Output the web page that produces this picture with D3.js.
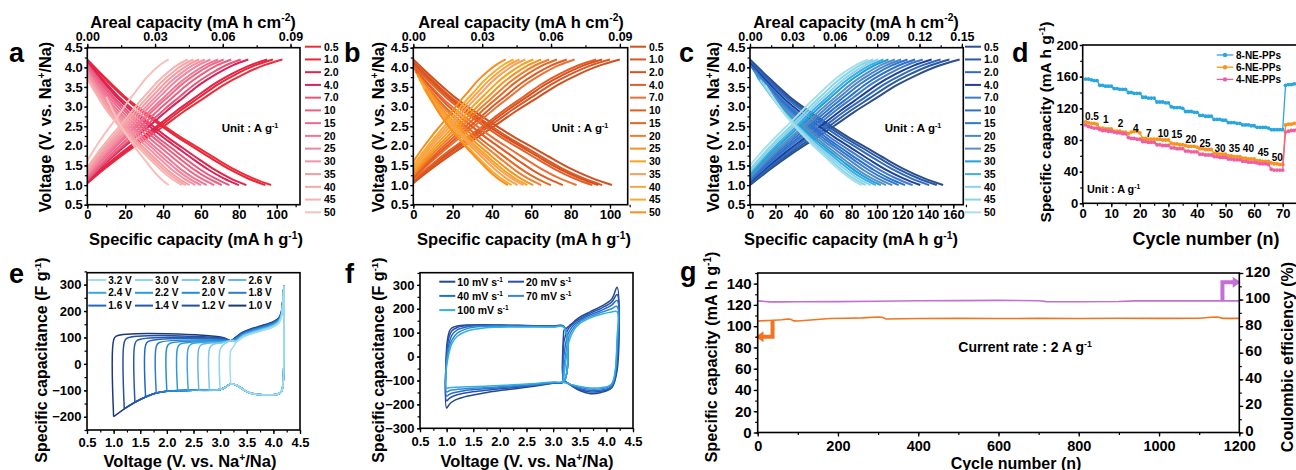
<!DOCTYPE html>
<html>
<head>
<meta charset="utf-8">
<script src="https://cdn.jsdelivr.net/npm/d3@7"></script>
<style>
  body { margin: 0; background: #fff; }
</style>
</head>
<body>
<script>
// ---------- data ----------
const rates = ["0.5", "1.0", "2.0", "4.0", "7.0", "10", "15", "20", "25", "30", "35", "40", "45", "50"];

// normalised profile of one GCD curve: [fraction of capacity, fraction of voltage window]
const chargeShape = [[0, 0], [0.1, 0.13], [0.2, 0.25], [0.3, 0.36], [0.4, 0.47], [0.5, 0.585], [0.6, 0.69], [0.7, 0.795], [0.8, 0.88], [0.9, 0.95], [1, 1]];
const dischargeShape = [[0, 0], [0.1, 0.15], [0.2, 0.29], [0.3, 0.405], [0.4, 0.51], [0.5, 0.61], [0.6, 0.70], [0.7, 0.79], [0.8, 0.875], [0.9, 0.945], [1, 1]];

// panel a (4-NE-PPs)
const aColors = ["#ee2d3a", "#ea2638", "#e4234a", "#d9235a", "#e8567a", "#eb5f80", "#ef6b8c", "#f07792", "#f2849e", "#f490a8", "#f59c9e", "#f6a8a8", "#f5b3b3", "#f7c0bc"];
const aChargeCap = [103, 98, 95, 85, 81, 76, 72, 69, 65, 62, 59, 56, 53, 43];
const aDischargeCap = [97, 94, 84, 80, 75, 71, 67, 63, 60, 57, 54, 52, 50, 43];
const aChargeStartV = [1.05, 1.05, 1.08, 1.1, 1.12, 1.15, 1.2, 1.22, 1.25, 1.3, 1.35, 1.4, 1.45, 1.62];
const aDischargeStartV = [4.2, 4.18, 4.15, 4.12, 4.08, 4.05, 4.0, 3.95, 3.9, 3.85, 3.8, 3.75, 3.7, 3.25];
const aDischargeStartQ = [0, 0, 0, 0, 0, 0, 0, 0, 0, 0, 0, 0, 0, 10];

// panel b (6-NE-PPs)
const bColors = ["#d24f1e", "#db5826", "#d9501c", "#e06028", "#ec7036", "#e35a1e", "#e8661e", "#f07e30", "#f5931e", "#f9a21a", "#f7a060", "#f8a440", "#f9ab30", "#fb8c1e"];
const bChargeCap = [105, 100, 96, 93, 82, 78, 73, 69, 65, 61, 57, 54, 51, 47];
const bDischargeCap = [101, 96, 94, 91, 83, 76, 70, 65, 61, 58, 56, 53, 50, 48];
const bChargeStartV = [1.05, 1.08, 1.1, 1.12, 1.15, 1.18, 1.2, 1.25, 1.3, 1.35, 1.4, 1.45, 1.5, 1.6];
const bDischargeStartV = [4.2, 4.15, 4.1, 4.05, 4.0, 3.95, 3.9, 3.85, 3.8, 3.7, 3.6, 3.55, 3.5, 3.45];
const bDischargeStartQ = [0, 0, 0, 0, 0, 1, 1, 2, 2, 3, 4, 5, 5, 6];

// panel c (8-NE-PPs)
const cColors = ["#2b4f8f", "#2c5aa0", "#2e6bc0", "#1f3f99", "#3b7bd0", "#2f6fca", "#2d78d0", "#4a86c8", "#5b8fbf", "#1ea0dc", "#3cb0e0", "#8fd0ef", "#86d6e8", "#a8e0e8"];
const cChargeCap = [165, 157, 150, 143, 136, 130, 124, 119, 114, 109, 105, 101, 97, 93];
const cDischargeCap = [152, 147, 141, 134, 128, 122, 117, 112, 107, 103, 99, 95, 91, 88];
const cChargeStartV = [1.0, 1.02, 1.05, 1.07, 1.1, 1.12, 1.15, 1.18, 1.2, 1.25, 1.3, 1.35, 1.4, 1.5];
const cDischargeStartV = [4.2, 4.17, 4.14, 4.1, 4.06, 4.02, 3.97, 3.92, 3.86, 3.8, 3.74, 3.68, 3.62, 3.55];
const cDischargeStartQ = [0, 0, 0, 0, 0, 1, 2, 3, 4, 5, 6, 8, 10, 12];

// panel d: rate capability
const dSeries = ["8-NE-PPs", "6-NE-PPs", "4-NE-PPs"];
const dColors = ["#29a6de", "#f7941d", "#ef5fa0"];
const d8NE = [157, 157, 156, 155, 155, 149, 149, 148, 148, 148, 145, 145, 144, 144, 144,
  140, 140, 139, 139, 139, 134, 134, 133, 133, 133, 128, 128, 128, 127, 127,
  122, 121, 121, 121, 120, 116, 116, 116, 115, 115, 111, 111, 110, 110, 110,
  106, 106, 106, 105, 105, 102, 102, 102, 101, 101, 99, 99, 99, 98, 98,
  96, 96, 96, 96, 95, 93, 93, 93, 93, 93, 149, 150, 150, 151, 151];
const d6NE = [103, 102, 101, 101, 100, 95, 95, 94, 94, 94, 91, 91, 91, 90, 90,
  88, 90, 91, 91, 89, 82, 82, 81, 81, 81, 81, 81, 80, 80, 80,
  76, 75, 75, 74, 74, 73, 72, 72, 72, 71, 69, 69, 68, 68, 68,
  63, 63, 62, 62, 62, 60, 60, 59, 59, 59, 57, 57, 56, 56, 56,
  54, 54, 53, 53, 53, 51, 50, 50, 49, 49, 99, 100, 100, 101, 101];
const d4NE = [99, 97, 96, 95, 95, 93, 92, 92, 91, 91, 90, 89, 89, 88, 88,
  83, 82, 82, 81, 81, 78, 78, 77, 77, 77, 74, 74, 73, 73, 73,
  70, 70, 69, 69, 69, 66, 66, 65, 65, 65, 62, 62, 61, 61, 61,
  59, 59, 58, 58, 58, 56, 56, 55, 55, 55, 53, 53, 52, 52, 52,
  51, 50, 50, 50, 49, 43, 42, 42, 42, 42, 90, 91, 92, 92, 93];
const dRateLabels = ["0.5", "1", "2", "4", "7", "10", "15", "20", "25", "30", "35", "40", "45", "50"];
const dLabelCycle = [3.2, 8.1, 13.2, 18.6, 23.1, 28.2, 32.9, 37.9, 42.8, 48.1, 53.1, 58, 63.2, 68.1];
const dLabelValue = [105, 101.5, 96.5, 90.5, 84, 84, 82.5, 76.2, 71.1, 64.8, 64.8, 64.8, 59.8, 53.4];

// panel e: CV with different lower cut-off voltages
const eLabels = ["3.2 V", "3.0 V", "2.8 V", "2.6 V", "2.4 V", "2.2 V", "2.0 V", "1.8 V", "1.6 V", "1.4 V", "1.2 V", "1.0 V"];
const eColors = ["#9edcf2", "#8fd3f0", "#7cc8ee", "#64b6ea", "#3aa6e2", "#2b9ad9", "#1f8fd6", "#2c7cc6", "#2169c0", "#2558b4", "#26509c", "#1d3a78"];
const eCutoffs = [3.2, 3.0, 2.8, 2.6, 2.4, 2.2, 2.0, 1.8, 1.6, 1.4, 1.2, 1.0];
const ePlateau = [65, 70, 72, 73, 74, 75, 77, 80, 85, 90, 97, 105];
const eUpperAt3 = [65, 78, 80, 82, 84, 86, 88, 90, 93, 95, 97, 100];
const eLowerEnd = [-75, -97, -100, -100, -100, -101, -103, -110, -125, -145, -170, -200];
const eUpperShift = [-18, -16, -14, -12, -10, -8, -6, -5, -3, -2, 0, 2];
const eUpperEnv = [[3.2, 88], [3.3, 100], [3.4, 115], [3.5, 125], [3.6, 132], [3.7, 138], [3.8, 144], [3.9, 150], [4.0, 158], [4.1, 172], [4.15, 195], [4.2, 295]];
const eLowerEnv = [[4.2, 180], [4.18, -80], [4.15, -105], [4.1, -113], [4.0, -117], [3.8, -117], [3.6, -112], [3.5, -105], [3.4, -92], [3.3, -80], [3.2, -75], [3.1, -88], [3.0, -97], [2.5, -100], [2.0, -103], [1.8, -110], [1.6, -125], [1.4, -145], [1.2, -170], [1.0, -200]];

// panel f: CV at different scan rates (two windows: 1.0-3.2 V and 3.2-4.2 V)
const fLabels = ["10 mV s", "20 mV s", "40 mV s", "70 mV s", "100 mV s"];
const fColors = ["#234a8a", "#2a4fb0", "#1f6fc8", "#3a86d0", "#30b0e6"];
const fLeftV = [1.0, 1.05, 1.1, 1.2, 1.4, 1.7, 2.0, 2.5, 3.0, 3.2];
const fLeftUpper = [
  [40, 105, 120, 128, 132, 133, 132, 130, 128, 127],
  [20, 85, 108, 122, 130, 132, 131, 129, 127, 126],
  [0, 60, 90, 112, 125, 130, 130, 128, 126, 125],
  [-20, 40, 70, 98, 118, 126, 127, 126, 125, 124],
  [-40, 20, 55, 85, 108, 120, 123, 124, 124, 123]];
const fLeftLower = [
  [-215, -200, -190, -178, -165, -152, -142, -128, -112, -105],
  [-185, -175, -168, -160, -150, -142, -135, -124, -110, -104],
  [-165, -158, -153, -148, -140, -135, -130, -122, -110, -104],
  [-148, -143, -140, -137, -133, -130, -126, -119, -108, -103],
  [-132, -130, -129, -128, -126, -124, -121, -115, -106, -102]];
const fRightV = [3.2, 3.25, 3.3, 3.4, 3.5, 3.7, 3.9, 4.1, 4.2];
const fRightUpper = [
  [110, 118, 128, 148, 165, 188, 210, 240, 290],
  [60, 100, 120, 143, 158, 182, 202, 228, 260],
  [0, 70, 105, 135, 152, 175, 193, 215, 235],
  [-50, 30, 85, 125, 145, 168, 185, 200, 210],
  [-90, 0, 65, 115, 138, 162, 177, 187, 188]];
const fRightLower = [
  [-100, -108, -115, -130, -142, -155, -150, -130, -60],
  [-102, -108, -115, -128, -138, -148, -145, -128, -30],
  [-104, -108, -114, -125, -133, -142, -140, -124, 0],
  [-106, -109, -114, -122, -128, -136, -134, -118, 40],
  [-108, -110, -114, -120, -125, -131, -130, -113, 80]];

// panel g: long cycling at 2 A/g
const gCapCycles = [1, 20, 40, 60, 75, 82, 90, 100, 140, 180, 220, 260, 300, 310, 320, 400, 500, 600, 700, 800, 900, 1000, 1100, 1130, 1145, 1160, 1200];
const gCapacity = [105, 105.2, 105.5, 106, 106.8, 106.5, 105, 104.8, 106, 107.2, 107.5, 107.8, 108.6, 108.4, 106.8, 107.2, 107.3, 107.2, 107.3, 107.2, 107.4, 107.3, 107.4, 108.4, 108.6, 107.3, 107.3];
const gEffCycles = [1, 30, 60, 100, 200, 300, 400, 500, 600, 700, 720, 800, 900, 940, 1000, 1100, 1200];
const gEfficiency = [99, 98.3, 98.3, 98.4, 98.5, 98.7, 99.1, 99.2, 99.4, 99.1, 98.5, 98.4, 98.6, 99.0, 99.0, 99.0, 99.0];
const gCapArrow = [[37, 106], [37, 90], [12, 90]];
const gEffArrow = [[1158, 99], [1158, 113], [1186, 113]];

// ---------- helpers ----------
const FONT = "'Liberation Sans', Arial, Helvetica, sans-serif";
const svg = d3.select("body").append("svg")
  .attr("width", 1296).attr("height", 470)
  .style("font-family", FONT).style("font-weight", "bold");
const defs = svg.append("defs");
let clipId = 0;

function clipRect(x0, y0, x1, y1) {
  const id = "clip" + (clipId++);
  defs.append("clipPath").attr("id", id).append("rect")
    .attr("x", x0).attr("y", y0).attr("width", x1 - x0).attr("height", y1 - y0);
  return svg.append("g").attr("clip-path", `url(#${id})`);
}

function drawAxis(kind, scale, pos, ticks, minor, fmt, opt = {}) {
  const gen = { bottom: d3.axisBottom, top: d3.axisTop, left: d3.axisLeft, right: d3.axisRight }[kind];
  const tr = (kind === "bottom" || kind === "top") ? `translate(0,${pos})` : `translate(${pos},0)`;
  if (minor) {
    const m = svg.append("g").attr("transform", tr)
      .call(gen(scale).tickValues(minor).tickFormat("").tickSize(opt.minor || 2.5).tickSizeOuter(0));
    m.select(".domain").remove();
    m.selectAll("line").attr("stroke", "#000").attr("stroke-width", 1.2);
  }
  const a = svg.append("g").attr("transform", tr)
    .call(gen(scale).tickValues(ticks).tickFormat(fmt).tickSize(opt.size || 4)
      .tickPadding(opt.pad != null ? opt.pad : 2).tickSizeOuter(0));
  a.select(".domain").remove();
  a.selectAll("line").attr("stroke", "#000").attr("stroke-width", 1.3);
  const txt = a.selectAll("text").attr("font-size", opt.fs || 13).attr("font-weight", "bold")
    .attr("font-family", FONT).attr("fill", "#000");
  if (opt.dy) txt.attr("dy", opt.dy);
}

// text with superscript parts: parts = ["plain", {sup: "-1"}, ...]
function richText(x, y, parts, fs, opt = {}) {
  const t = svg.append("text")
    .attr("transform", `translate(${x},${y})` + (opt.rotate ? ` rotate(${opt.rotate})` : ""))
    .attr("text-anchor", opt.anchor || "middle")
    .attr("font-size", fs).attr("font-weight", "bold").attr("fill", "#000");
  let shifted = false;
  parts.forEach(p => {
    if (typeof p === "string") {
      const s = t.append("tspan").text(p);
      if (shifted) { s.attr("dy", fs * 0.38); shifted = false; }
    } else {
      t.append("tspan").text(p.sup).attr("font-size", fs * 0.62).attr("dy", -fs * 0.38);
      shifted = true;
    }
  });
  return t;
}

function frame(x0, y0, x1, y1) {
  svg.append("rect").attr("x", x0).attr("y", y0).attr("width", x1 - x0).attr("height", y1 - y0)
    .attr("fill", "none").attr("stroke", "#000").attr("stroke-width", 1.6);
}

function letter(ch, x, y) {
  svg.append("text").attr("x", x).attr("y", y).attr("font-size", 27).attr("font-weight", "bold").text(ch);
}

const range = (a, b, s) => d3.range(a, b + s / 2, s);

// ---------- panels a, b, c ----------
const abcTop = 47.7, abcBottom = 204.7;
const abcLayout = [
  { ch: "a", x0: 87.3, x1: 300, capMax: 112.3, arealMax: 0.0942, capTicks: range(0, 100, 20), arealTicks: range(0, 0.09, 0.03),
    colors: aColors, qc: aChargeCap, qd: aDischargeCap, vc0: aChargeStartV, vd0: aDischargeStartV, qd0: aDischargeStartQ,
    letterX: 9, yTitleX: 51, xTitleX: 196, topTitleX: 193, legX: 305, unitX: 250 },
  { ch: "b", x0: 413.3, x1: 627.7, capMax: 109, arealMax: 0.0934, capTicks: range(0, 100, 20), arealTicks: range(0, 0.09, 0.03),
    colors: bColors, qc: bChargeCap, qd: bDischargeCap, vc0: bChargeStartV, vd0: bDischargeStartV, qd0: bDischargeStartQ,
    letterX: 344, yTitleX: 384, xTitleX: 524, topTitleX: 521, legX: 630, unitX: 580 },
  { ch: "c", x0: 750, x1: 963.3, capMax: 167.9, arealMax: 0.151, capTicks: range(0, 160, 20), arealTicks: range(0, 0.15, 0.03),
    colors: cColors, qc: cChargeCap, qd: cDischargeCap, vc0: cChargeStartV, vd0: cDischargeStartV, qd0: cDischargeStartQ,
    letterX: 679, yTitleX: 719, xTitleX: 851, topTitleX: 856, legX: 965, unitX: 913 }
];

abcLayout.forEach(p => {
  const x = d3.scaleLinear().domain([0, p.capMax]).range([p.x0, p.x1]);
  const xTop = d3.scaleLinear().domain([0, p.arealMax]).range([p.x0, p.x1]);
  const y = d3.scaleLinear().domain([0.5, 4.5]).range([abcBottom, abcTop]);
  const line = d3.line().x(d => x(d[0])).y(d => y(d[1])).curve(d3.curveMonotoneX);
  const g = clipRect(p.x0, abcTop, p.x1, abcBottom);

  rates.forEach((r, i) => {
    const charge = chargeShape.map(([f, s]) => [p.qc[i] * f, p.vc0[i] + (4.2 - p.vc0[i]) * s]);
    const dis = dischargeShape.map(([f, s]) => [p.qd0[i] + (p.qd[i] - p.qd0[i]) * f, p.vd0[i] - (p.vd0[i] - 1.0) * s]);
    [charge, dis].forEach(c => g.append("path").attr("d", line(c)).attr("fill", "none")
      .attr("stroke", p.colors[i]).attr("stroke-width", 2));
  });

  frame(p.x0, abcTop, p.x1, abcBottom);
  drawAxis("bottom", x, abcBottom, p.capTicks, range(0, p.capMax, 10), d3.format("d"), { pad: 1 });
  drawAxis("top", xTop, abcTop, p.arealTicks, range(0, p.arealMax, 0.015), d3.format(".2f"), { fs: 12.5, pad: 3 });
  drawAxis("left", y, p.x0, range(0.5, 4.5, 0.5), range(0.5, 4.5, 0.25), d3.format(".1f"), { size: 3, pad: 1.5 });

  letter(p.ch, p.letterX, 62);
  richText(p.topTitleX, 27.5, ["Areal capacity (mA h cm", { sup: "-2" }, ")"], 16.5);
  richText(p.xTitleX, 245, ["Specific capacity (mA h g", { sup: "-1" }, ")"], 16.5);
  richText(p.yTitleX, 127, ["Voltage (V. vs. Na", { sup: "+" }, "/Na)"], 16.3, { rotate: -90 });
  richText(p.unitX, 132, ["Unit : A g", { sup: "-1" }], 11.5);

  // legend
  rates.forEach((r, i) => {
    const ly = 46.7 + i * 12.74;
    svg.append("line").attr("x1", p.legX).attr("x2", p.legX + 16).attr("y1", ly).attr("y2", ly)
      .attr("stroke", p.colors[i]).attr("stroke-width", 2);
    svg.append("text").attr("x", p.legX + 19).attr("y", ly + 3.8).attr("font-size", 10.5).text(r);
  });
});

// ---------- panel d ----------
{
  const x0 = 1082.7, top = 45, bottom = 203.3;
  const x = d3.scaleLinear().domain([0, 80]).range([x0, x0 + 80 * 2.857]);
  const y = d3.scaleLinear().domain([0, 200]).range([bottom, top]);
  const g = clipRect(x0, top, 1296, bottom);
  const line = d3.line().x((d, i) => x(i + 1)).y(d => y(d));
  [d8NE, d6NE, d4NE].forEach((s, k) => {
    g.append("path").attr("d", line(s)).attr("fill", "none").attr("stroke", dColors[k]).attr("stroke-width", 1.3);
    g.selectAll(null).data(s).enter().append("circle")
      .attr("cx", (d, i) => x(i + 1)).attr("cy", d => y(d)).attr("r", 1.9).attr("fill", dColors[k]);
  });
  frame(x0, top, x(80), bottom);
  drawAxis("bottom", x, bottom, range(0, 70, 10), range(0, 75, 5), d3.format("d"), { pad: 1.5 });
  drawAxis("left", y, x0, range(0, 200, 40), range(0, 200, 20), d3.format("d"), { size: 3, pad: 1.5 });

  dRateLabels.forEach((t, i) => {
    svg.append("text").attr("x", x(dLabelCycle[i])).attr("y", y(dLabelValue[i]))
      .attr("text-anchor", "middle").attr("font-size", 10).text(t);
  });
  dSeries.forEach((s, k) => {
    const ly = 55 + k * 12.2;
    svg.append("line").attr("x1", 1216.7).attr("x2", 1233.3).attr("y1", ly).attr("y2", ly)
      .attr("stroke", dColors[k]).attr("stroke-width", 1.3);
    svg.append("circle").attr("cx", 1225).attr("cy", ly).attr("r", 2.2).attr("fill", dColors[k]);
    svg.append("text").attr("x", 1236).attr("y", ly + 3.6).attr("font-size", 10).text(s);
  });
  richText(1087, 193.3, ["Unit : A g", { sup: "-1" }], 10.8, { anchor: "start" });
  letter("d", 1012, 62);
  richText(1206, 245, ["Cycle number (n)"], 18);
  richText(1051, 122, ["Specific capacity (mA h g", { sup: "-1" }, ")"], 15.5, { rotate: -90 });
}

// ---------- panel e ----------
{
  const x0 = 87, x1 = 300, top = 272.7, bottom = 430;
  const x = d3.scaleLinear().domain([0.5, 4.5]).range([x0, x1]);
  const y = d3.scaleLinear().domain([-250, 345]).range([bottom, top]);
  const g = clipRect(x0, top, x1, bottom);
  const line = d3.line().x(d => x(d[0])).y(d => y(d[1])).curve(d3.curveCatmullRom.alpha(0.5));
  // darkest (1.0 V) first, lightest on top
  for (let i = eCutoffs.length - 1; i >= 0; i--) {
    const c = eCutoffs[i];
    const pts = [[c, eLowerEnd[i]], [c, ePlateau[i] - 15], [c + 0.05, ePlateau[i]]];
    if (c < 2.95) pts.push([3.05, eUpperAt3[i]]);
    eUpperEnv.forEach(([v, val]) => {
      if (v > c + 0.06) pts.push([v, (v > 3.25 && v < 4.16) ? val + eUpperShift[i] : val]);
    });
    eLowerEnv.forEach(([v, val]) => { if (v > c + 0.001) pts.push([v, val]); });
    pts.push([c, eLowerEnd[i]]);
    g.append("path").attr("d", line(pts)).attr("fill", "none").attr("stroke", eColors[i]).attr("stroke-width", 1.5);
  }
  frame(x0, top, x1, bottom);
  drawAxis("bottom", x, bottom, range(0.5, 4.5, 0.5), range(0.5, 4.5, 0.25), d3.format(".1f"), { pad: 4 });
  drawAxis("left", y, x0, range(-200, 300, 100), range(-250, 345, 50), d3.format("d"), { size: 3, pad: 2.5 });

  eLabels.forEach((t, i) => {
    const col = i % 4, row = Math.floor(i / 4);
    const lx = 88.3 + col * 46.7, ly = 280 + row * 12.8;
    svg.append("line").attr("x1", lx).attr("x2", lx + 18).attr("y1", ly).attr("y2", ly)
      .attr("stroke", eColors[i]).attr("stroke-width", 2);
    svg.append("text").attr("x", lx + 20).attr("y", ly + 3.6).attr("font-size", 10).text(t);
  });
  letter("e", 9, 283);
  richText(190, 467, ["Voltage (V. vs. Na", { sup: "+" }, "/Na)"], 16.5);
  richText(47, 360, ["Specific capacitance (F g", { sup: "-1" }, ")"], 16, { rotate: -90 });
}

// ---------- panel f ----------
{
  const x0 = 420, x1 = 633, top = 272.7, bottom = 428.3;
  const x = d3.scaleLinear().domain([0.5, 4.5]).range([x0, x1]);
  const y = d3.scaleLinear().domain([-300, 351]).range([bottom, top]);
  const g = clipRect(x0, top, x1, bottom);
  const line = d3.line().x(d => x(d[0])).y(d => y(d[1])).curve(d3.curveCatmullRom.alpha(0.5));
  fLabels.forEach((t, i) => {
    const left = fLeftV.map((v, j) => [v, fLeftUpper[i][j]])
      .concat(fLeftV.map((v, j) => [v, fLeftLower[i][j]]).reverse());
    left.push([fLeftV[0], fLeftUpper[i][0]]);
    const right = fRightV.map((v, j) => [v, fRightUpper[i][j]])
      .concat(fRightV.map((v, j) => [v, fRightLower[i][j]]).reverse());
    right.push([fRightV[0], fRightUpper[i][0]]);
    [left, right].forEach(c => g.append("path").attr("d", line(c)).attr("fill", "none")
      .attr("stroke", fColors[i]).attr("stroke-width", 1.5));
  });
  frame(x0, top, x1, bottom);
  drawAxis("bottom", x, bottom, range(0.5, 4.5, 0.5), range(0.5, 4.5, 0.25), d3.format(".1f"), { pad: 4 });
  drawAxis("left", y, x0, range(-300, 300, 100), range(-300, 350, 50), d3.format("d"), { size: 3, pad: 2.5 });

  fLabels.forEach((t, i) => {
    const col = i % 2, row = Math.floor(i / 2);
    const lx = 439.3 + col * 68.7, ly = 281.7 + row * 14.2;
    svg.append("line").attr("x1", lx).attr("x2", lx + 16).attr("y1", ly).attr("y2", ly)
      .attr("stroke", fColors[i]).attr("stroke-width", 2);
    richText(lx + 18, ly + 3.8, [t, { sup: "-1" }], 10.5, { anchor: "start" });
  });
  letter("f", 345, 283);
  richText(527, 467, ["Voltage (V. vs. Na", { sup: "+" }, "/Na)"], 16.5);
  richText(384, 360, ["Specific capacitance (F g", { sup: "-1" }, ")"], 16, { rotate: -90 });
}

// ---------- panel g ----------
{
  const x0 = 757.7, x1 = 1239.3, top = 273, bottom = 432.5;
  const x = d3.scaleLinear().domain([0, 1200]).range([x0, x1]);
  const yL = d3.scaleLinear().domain([0, 150]).range([bottom, top]);
  const yR = d3.scaleLinear().domain([0, 120]).range([bottom, top]);
  const g = clipRect(x0, top, x1, bottom);
  g.append("path").attr("d", d3.line().x((d, i) => x(gEffCycles[i])).y(d => yR(d))(gEfficiency))
    .attr("fill", "none").attr("stroke", "#c46fd6").attr("stroke-width", 1.6);
  g.append("path").attr("d", d3.line().x((d, i) => x(gCapCycles[i])).y(d => yL(d))(gCapacity))
    .attr("fill", "none").attr("stroke", "#f47320").attr("stroke-width", 1.6);

  // arrows pointing to the relevant axes
  function arrow(pts, sx, sy, color, dir) {
    const p = pts.map(([a, b]) => [sx(a), sy(b)]);
    svg.append("path").attr("d", d3.line()(p)).attr("fill", "none").attr("stroke", color).attr("stroke-width", 4);
    const [ex, ey] = p[p.length - 1];
    const head = dir < 0
      ? [[ex + 1, ey - 5.5], [ex - 7, ey], [ex + 1, ey + 5.5]]
      : [[ex - 1, ey - 5.5], [ex + 7, ey], [ex - 1, ey + 5.5]];
    svg.append("path").attr("d", d3.line()(head) + "Z").attr("fill", color);
  }
  arrow(gCapArrow, x, yL, "#f47320", -1);
  arrow(gEffArrow, x, yR, "#c46fd6", 1);

  frame(x0, top, x1, bottom);
  drawAxis("bottom", x, bottom, range(0, 1200, 200), range(0, 1200, 100), d3.format("d"), { fs: 14.5, pad: 4.5 });
  drawAxis("left", yL, x0, range(0, 140, 20), range(0, 150, 10), d3.format("d"), { fs: 15, pad: 2 });
  drawAxis("right", yR, x1, range(0, 120, 20), range(0, 120, 10), d3.format("d"), { fs: 15, pad: 2, dy: "0.2em" });

  richText(1025, 352, ["Current rate : 2 A g", { sup: "-1" }], 14);
  letter("g", 680, 281);
  richText(1016, 468.5, ["Cycle number (n)"], 16);
  richText(717, 357, ["Specific capacity (mA h g", { sup: "-1" }, ")"], 16.3, { rotate: -90 });
  richText(1293, 357, ["Coulombic efficiency (%)"], 16, { rotate: -90 });
}
</script>
</body>
</html>
